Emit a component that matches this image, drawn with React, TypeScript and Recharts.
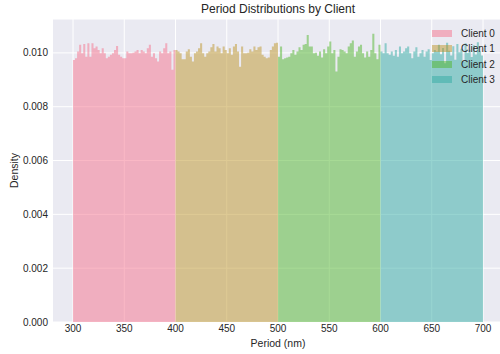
import { Area, CartesianGrid, ComposedChart, XAxis, YAxis } from "recharts";

// histogram densities, 50 bins (2 nm) per client
const CLIENTS = ["Client 0", "Client 1", "Client 2", "Client 3"];
const CLIENT_RANGES = [
  [300, 400],
  [400, 500],
  [500, 600],
  [600, 700],
];
const BIN_WIDTH = 2;

const client0 = [
  0.00974, 0.0098, 0.01005, 0.0103, 0.00999, 0.01033, 0.00986, 0.01036, 0.00986, 0.01036,
  0.01017, 0.01024, 0.01011, 0.00999, 0.01017, 0.00999, 0.0098, 0.00986, 0.00993, 0.00999,
  0.01011, 0.01026, 0.00993, 0.00986, 0.0098, 0.0098, 0.01005, 0.00999, 0.00999, 0.01001,
  0.01005, 0.01011, 0.00999, 0.01011, 0.01005, 0.00999, 0.01017, 0.0103, 0.00986, 0.00999,
  0.0098, 0.00968, 0.01005, 0.00999, 0.01017, 0.01036, 0.00999, 0.01005, 0.00937, 0.01011,
];
const client1 = [
  0.01011, 0.01005, 0.00999, 0.00976, 0.00976, 0.01005, 0.01014, 0.00986, 0.00968, 0.00999,
  0.01005, 0.01017, 0.01036, 0.00999, 0.00986, 0.00999, 0.01005, 0.01021, 0.01033, 0.01005,
  0.01024, 0.01017, 0.00999, 0.01024, 0.01011, 0.00999, 0.01017, 0.00993, 0.01024, 0.01033,
  0.01005, 0.00949, 0.01024, 0.00999, 0.00999, 0.01001, 0.01014, 0.01005, 0.01024, 0.01011,
  0.01021, 0.01024, 0.00993, 0.00986, 0.0098, 0.00983, 0.01011, 0.01024, 0.01036, 0.01038,
];
const client2 = [
  0.00986, 0.01024, 0.00976, 0.0098, 0.00983, 0.00986, 0.00999, 0.01011, 0.00993, 0.01005,
  0.01021, 0.01011, 0.0103, 0.01033, 0.01067, 0.01024, 0.01024, 0.00999, 0.01001, 0.00989,
  0.01005, 0.00983, 0.01014, 0.00999, 0.01024, 0.01042, 0.00999, 0.01011, 0.00931, 0.00986,
  0.01014, 0.01011, 0.01005, 0.00999, 0.01024, 0.01036, 0.01046, 0.00986, 0.01005, 0.01024,
  0.0103, 0.00999, 0.00983, 0.01005, 0.00986, 0.01011, 0.01071, 0.00999, 0.00976, 0.0103,
];
const client3 = [
  0.01005, 0.00999, 0.01036, 0.00999, 0.00993, 0.01005, 0.00989, 0.01011, 0.00986, 0.01024,
  0.00999, 0.01005, 0.01017, 0.01024, 0.00999, 0.0098, 0.01005, 0.01021, 0.00986, 0.00999,
  0.01011, 0.00986, 0.01005, 0.01014, 0.00974, 0.00999, 0.01011, 0.01005, 0.0103, 0.00995,
  0.01018, 0.00962, 0.01038, 0.01008, 0.0099, 0.01025, 0.00975, 0.01033, 0.01002, 0.01015,
  0.00968, 0.01036, 0.01, 0.01012, 0.00985, 0.01028, 0.00994, 0.0104, 0.01006, 0.0099,
];
const SERIES = [client0, client1, client2, client3];

const X_TICKS = [300, 350, 400, 450, 500, 550, 600, 650, 700];
const Y_TICKS = [0, 0.002, 0.004, 0.006, 0.008, 0.01];

const COLORS = ["#F6728C", "#BE962A", "#50B62C", "#32ACA4"];
const TEXT = "#262626";
const FONT = '"Liberation Sans", Arial, sans-serif';

// one row per bin edge; step-after areas turn it into histogram bars
function buildRows() {
  const byX = new Map<number, Record<string, number>>();
  SERIES.forEach((vals, c) => {
    const [lo] = CLIENT_RANGES[c];
    vals.forEach((v, i) => {
      const x = lo + i * BIN_WIDTH;
      byX.set(x, { ...(byX.get(x) || { x }), [`c${c}`]: v });
    });
    const end = lo + vals.length * BIN_WIDTH;
    byX.set(end, { ...(byX.get(end) || { x: end }), [`c${c}`]: vals[vals.length - 1] });
  });
  return [...byX.values()].sort((a, b) => a.x - b.x);
}

const rows = buildRows();

export default function App() {
  return (
    <div
      style={{
        position: "absolute",
        left: 0,
        top: 0,
        width: 500,
        height: 354,
        overflow: "hidden",
        background: "#fff",
        fontFamily: FONT,
      }}
    >
      <div
        style={{
          position: "absolute",
          left: 78,
          width: 400,
          top: 2,
          textAlign: "center",
          fontSize: 12,
          color: TEXT,
        }}
      >
        Period Distributions by Client
      </div>

      <ComposedChart
        width={510}
        height={354}
        data={rows}
        margin={{ top: 19, right: 6.5, bottom: 0, left: 0 }}
      >
        <CartesianGrid fill="#EAEAF2" stroke="#FFFFFF" strokeWidth={1} />
        <XAxis
          dataKey="x"
          type="number"
          domain={[280, 720]}
          ticks={X_TICKS}
          height={32}
          tickLine={false}
          axisLine={false}
          tickSize={0}
          tickMargin={3}
          tick={{ fill: TEXT, fontSize: 10, fontFamily: FONT }}
          label={{
            content: ({ viewBox }: any) => (
              <text
                x={viewBox.x + viewBox.width / 2}
                y={viewBox.y + 25}
                textAnchor="middle"
                fill={TEXT}
                fontSize={10.5}
                fontFamily={FONT}
              >
                Period (nm)
              </text>
            ),
          }}
        />
        <YAxis
          type="number"
          domain={[0, 0.01126]}
          ticks={Y_TICKS}
          width={52.5}
          tickLine={false}
          axisLine={false}
          tickSize={0}
          tickMargin={4.5}
          tickFormatter={(v: number) => v.toFixed(3)}
          tick={{ fill: TEXT, fontSize: 10, fontFamily: FONT }}
          label={{
            content: ({ viewBox }: any) => {
              const cy = viewBox.y + viewBox.height / 2;
              return (
                <text
                  x={14}
                  y={cy}
                  transform={`rotate(-90 14 ${cy})`}
                  textAnchor="middle"
                  dominantBaseline="central"
                  fill={TEXT}
                  fontSize={10.5}
                  fontFamily={FONT}
                >
                  Density
                </text>
              );
            },
          }}
        />
        {CLIENTS.map((name, c) => (
          <Area
            key={name}
            name={name}
            dataKey={`c${c}`}
            type="stepAfter"
            stroke="none"
            fill={COLORS[c]}
            fillOpacity={0.5}
            baseValue={0}
            connectNulls={false}
            dot={false}
            activeDot={false}
            isAnimationActive={false}
          />
        ))}
      </ComposedChart>

      <div style={{ position: "absolute", left: 432, top: 26 }}>
        {CLIENTS.map((name, c) => (
          <div
            key={name}
            style={{ display: "flex", alignItems: "center", height: 15.3, whiteSpace: "nowrap" }}
          >
            <span
              style={{
                display: "inline-block",
                width: 20,
                height: 7,
                background: COLORS[c],
                opacity: 0.5,
                marginRight: 9,
              }}
            />
            <span style={{ fontSize: 10, color: TEXT }}>{name}</span>
          </div>
        ))}
      </div>
    </div>
  );
}
